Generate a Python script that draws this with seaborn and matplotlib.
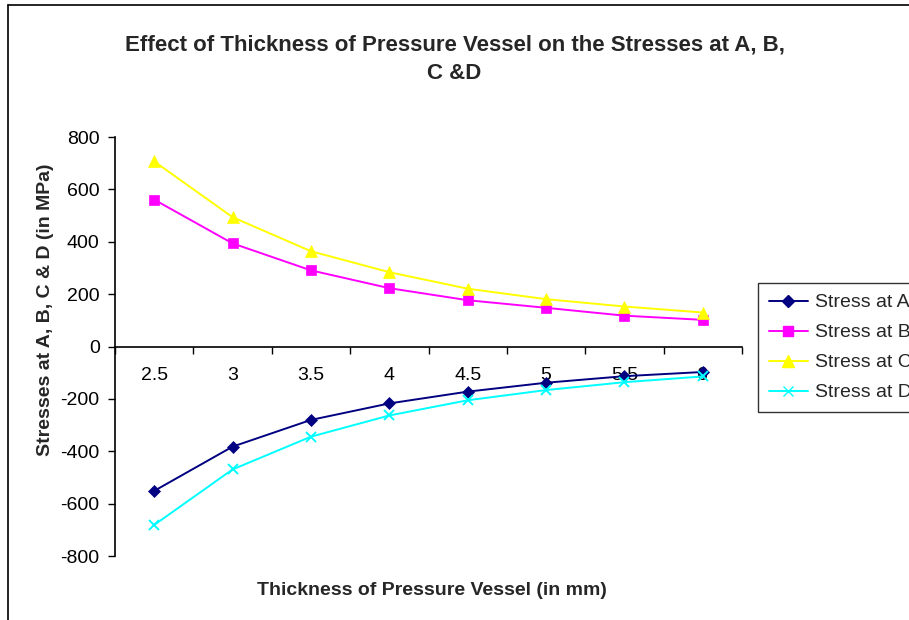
import numpy as np
import pandas as pd
import matplotlib.pyplot as plt
import seaborn as sns
from matplotlib.lines import Line2D
from matplotlib.ticker import MultipleLocator, FixedLocator

sns.set_theme(style="white")
plt.rcParams['font.family'] = ['Liberation Sans', 'DejaVu Sans']
plt.rcParams['axes.unicode_minus'] = False

# data
thickness = [2.5, 3, 3.5, 4, 4.5, 5, 5.5, 6]
stress_a = [-551, -382, -280, -217, -172, -138, -113, -97]
stress_b = [561, 394, 291, 223, 177, 148, 118, 102]
stress_c = [707, 494, 364, 284, 221, 181, 153, 130]
stress_d = [-681, -469, -344, -263, -205, -166, -136, -114]

series = {
    'Stress at A': (stress_a, '#000080', 'D', 6.5),
    'Stress at B': (stress_b, '#FF00FF', 's', 6.5),
    'Stress at C': (stress_c, '#FFFF00', '^', 8.5),
    'Stress at D': (stress_d, '#00FFFF', 'x', 6.5),
}

df = pd.DataFrame({'thickness': thickness, **{k: v[0] for k, v in series.items()}})

fig = plt.figure(figsize=(9.09, 6.2), dpi=100)
ax = fig.add_axes([0.1265, 0.103, 0.6898, 0.676])

for name, (vals, color, marker, ms) in series.items():
    sns.lineplot(data=df, x='thickness', y=name, ax=ax, color=color, marker=marker,
                 markersize=ms, markeredgecolor=color,
                 markeredgewidth=1.4 if marker == 'x' else 0.5,
                 linewidth=1.4, label=name, legend=False)

ax.set_xlim(2.25, 6.25)
ax.set_ylim(-800, 800)
ax.yaxis.set_major_locator(MultipleLocator(200))
ax.set_xticks(thickness)
ax.set_xticklabels([f'{t:g}' for t in thickness])
ax.xaxis.set_minor_locator(FixedLocator(np.arange(2.25, 6.3, 0.5)))
ax.tick_params(axis='x', which='major', length=0, pad=15, labelsize=14, colors='black')
ax.tick_params(axis='x', which='minor', length=5, width=1, color='black', direction='out', bottom=True)
ax.tick_params(axis='y', length=5, width=1, color='black', direction='out', left=True,
               labelsize=14, pad=6, labelcolor='black')

ax.spines['top'].set_visible(False)
ax.spines['right'].set_visible(False)
ax.spines['bottom'].set_position(('data', 0))
for s in ['left', 'bottom']:
    ax.spines[s].set_color('black')
    ax.spines[s].set_linewidth(1.2)
ax.grid(False)

ax.set_xlabel('Thickness of Pressure Vessel (in mm)', fontsize=14, fontweight='bold')
ax.xaxis.set_label_coords(0.505, -0.062, transform=ax.transAxes)
ax.set_ylabel('Stresses at A, B, C & D (in MPa)', fontsize=14, fontweight='bold')
ax.yaxis.set_label_coords(46 / 909, 0.5, transform=fig.transFigure)
ax.yaxis.label.set_verticalalignment('center')

fig.text(0.5, 1 - 35 / 620, 'Effect of Thickness of Pressure Vessel on the Stresses at A, B,\nC &D',
         ha='center', va='top', fontsize=16, fontweight='bold', linespacing=1.45)

handles = [Line2D([0], [0], color=c, marker=m, markersize=ms, markeredgecolor=c, linewidth=1.4)
           for (_, c, m, ms) in series.values()]
leg = fig.legend(handles, list(series.keys()), loc='upper left',
                 bbox_to_anchor=(758 / 909, 1 - 283 / 620), fontsize=14, frameon=True,
                 fancybox=False, edgecolor='black', handlelength=2.0, borderpad=0.55,
                 labelspacing=0.64, handletextpad=0.4, borderaxespad=0)
leg.get_frame().set_linewidth(1.0)

# chart-area border (left and top edges visible in the original)
fig.add_artist(Line2D([8 / 909, 8 / 909], [0, 1 - 5 / 620], color='black', linewidth=1.2,
                      transform=fig.transFigure))
fig.add_artist(Line2D([8 / 909, 1], [1 - 5 / 620, 1 - 5 / 620], color='black', linewidth=1.2,
                      transform=fig.transFigure))

fig.savefig('out.png', dpi=100)
